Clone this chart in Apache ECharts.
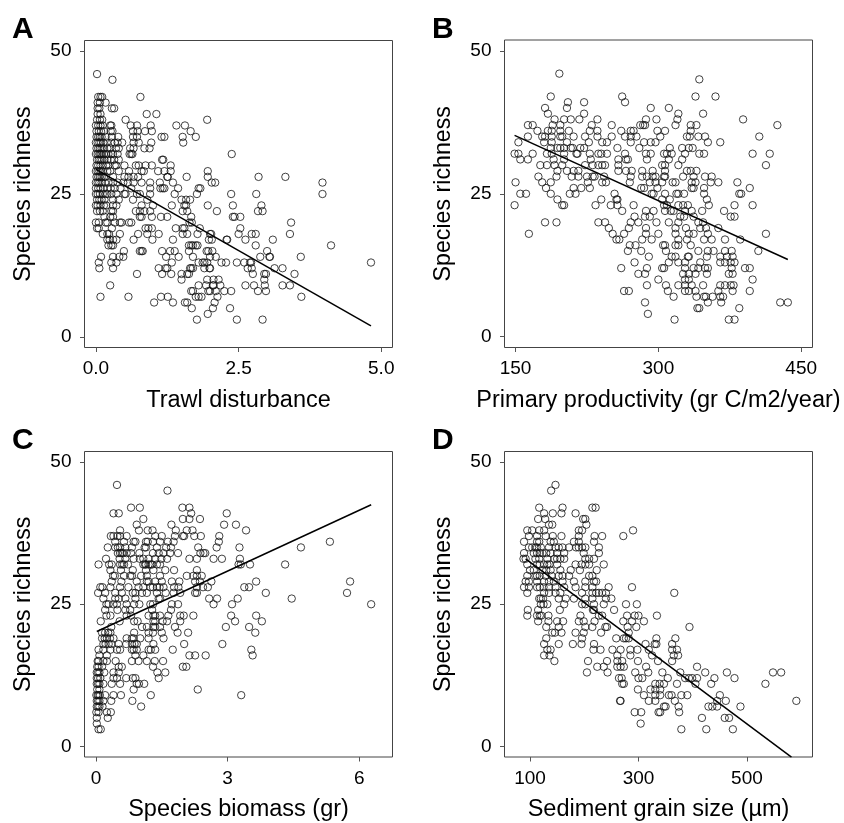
<!DOCTYPE html>
<html><head><meta charset="utf-8">
<style>html,body{margin:0;padding:0;background:#fff}#c{width:844px;height:823px}</style>
<script src="https://cdn.jsdelivr.net/npm/echarts@6/dist/echarts.min.js"></script>
</head><body><div id="c"></div>
<script>
// Species richness levels: each row in the x lists below belongs to one level.
const richnessLevels=[46,45,42,41,40,39,38,37,36,35,34,33,32,31,30,29,28,27,26,25,24,23,22,21,20,19,18,17,16,15,14,13,12,11,10,9,8,7,6,5,4,3];

const trawl=[
[.02],[.29],
[.04,.08,.11,.78],
[.03,.07,.17],
[.03,.06,.28,.32],
[.03,.08,.89,1.06],
[.02,.07,.11,.52,1.95],
[0,.04,.08,.12,.25,.27,.61,.72,.96,1.41,1.56],
[.01,.05,.09,.14,.26,.29,.65,.73,.86,.98,1.66],
[.01,.04,.07,.1,.17,.28,.39,.65,.72,1.15,1.2,1.52,1.75],
[0,.03,.06,.09,.13,.19,.27,.33,.38,.46,.66,.75,.97,1.53],
[.01,.04,.07,.1,.14,.2,.25,.35,.4,.6,.66,.85,.94],
[0,.03,.06,.08,.1,.14,.18,.22,.27,.3,.38,.59,.62,.64,2.38],
[.02,.05,.08,.11,.15,.2,.26,.32,.4,1.16,1.18],
[.01,.04,.08,.12,.18,.22,.33,.36,.5,.7,.75,.87,.98,1.31],
[0,.03,.06,.09,.12,.2,.25,.4,.58,.8,.84,1.09,1.2,1.31,1.96],
[.01,.04,.07,.1,.14,.17,.3,.5,.57,.66,.74,1.25,1.26,1.59,1.96,2.85,3.32],
[0,.03,.06,.1,.16,.22,.3,.38,.48,.56,.66,.8,.95,1.12,1.35,2.03,2.09,3.97],
[0,.04,.08,.13,.2,.26,.33,.43,.62,.95,1.13,1.17,1.2,1.44,1.8,1.83],
[0,.03,.07,.12,.17,.2,.27,.36,.5,.52,.72,.77,.95,1.38,1.77,2.37,2.81,3.97],
[.02,.06,.1,.15,.3,.4,.65,.9,1.5,1.58,1.65],
[0,.03,.08,.14,.18,.3,.36,.8,1.0,1.33,1.55,1.58,1.96,2.4,2.9],
[.02,.07,.12,.27,.3,.7,.77,.85,.95,1.52,1.6,2.12,2.84,2.92],
[.15,.25,.3,.77,.8,.98,1.14,1.25,1.67,2.4,2.43,2.53],
[0,.05,.17,.2,.33,.42,.45,.58,.62,1.64,1.68,3.42],
[.02,.05,.28,.87,.92,.98,1.4,1.52,1.55,1.82,2.53],
[.12,.2,.23,.42,.74,.9,1.1,1.52,1.6,1.78,2,2.02,2.5,2.73,2.8,3.4],
[.2,.24,.3,.36,.66,.99,1.35,1.98,2.03,2.29,2.3,2.62,3.1],
[.22,.27,.3,1.63,1.67,1.7,1.75,1.78,2.8,4.12],
[.49,.77,.8,.82,1.16,1.3,1.38,1.63,1.94,1.97,2.04,3.0],
[.09,.3,.41,.48,1.23,1.45,1.7,2.0,2.1,2.88,3.04,3.05,3.59],
[.05,.27,.36,1.33,1.8,1.87,1.9,1.95,2.2,2.28,2.47,2.6,2.7,2.72,4.82],
[.06,.3,1.1,1.22,1.25,1.65,1.67,1.7,1.9,1.99,2.0,2.66,2.73,3.13,3.27],
[.72,1.16,1.32,1.5,1.6,1.63,2.75,2.95,2.98,3.48],
[1.5,1.95,2.06,2.15,2.95],
[.25,1.8,1.93,2.05,2.06,2.18,2.62,2.77,2.96,3.27,3.4],
[1.67,1.7,1.97,2.0,2.1,2.25,2.37,2.84,2.98],
[.08,.57,1.14,1.26,1.75,1.8,1.85,2.13,3.6],
[1.02,1.35,1.56,1.6,2.08],
[1.68,2.05,2.35],
[1.96],
[1.77,2.47,2.92]
];

const productivity=[
[196],[343],
[187,262,339,360],
[205,222,265],
[181,204,292,311],
[184,222,321,347],
[191,201,208,217,236,287,298,320,389],
[163,168,189,197,230,251,281,284,286,318,334,340,425],
[173,184,188,197,206,228,236,261,271,274,299,307,334],
[163,178,181,188,197,199,211,223,236,251,265,271,277,302,330,333,342,349,406],
[153,180,188,204,227,241,246,271,285,292,297,352,365],
[187,194,197,201,208,210,218,222,257,280,312,325,332,336],
[149,153,168,183,188,201,214,215,228,237,240,246,265,287,292,306,309,314,328,343,348,399,417],
[155,163,190,201,229,258,266,268,288,311,325],
[176,183,191,199,223,231,237,241,244,258,304,307,321,413],
[194,204,211,216,258,266,272,283,294,307,330,334,340],
[174,193,209,216,225,231,233,243,271,283,288,294,297,306,307,326,337,349,356],
[150,178,187,226,241,245,270,291,297,304,315,318,335,339,355,363,383],
[182,211,219,228,282,285,299,335,337,348,396],
[155,161,187,207,213,254,293,295,307,319,321,327,348,385,387],
[194,240,256,257,304,312,351],
[149,199,201,234,250,257,274,306,309,321,326,331,353,380,399],
[262,287,295,307,313,316,328,335,346,369],
[275,286,291,323,327,337,376,380],
[181,193,237,244,271,279,298,311,321,342,347],
[248,269,287,318,329,344,350,363],
[164,252,264,287,300,318,332,337,352,413],
[256,259,283,293,321,330,348,356,370,386],
[270,276,305,307,318,321,334],
[268,282,308,342,352,358,370,377,405],
[290,314,318,331,332,351,365,372,378],
[275,311,321,328,344,365,370,376,380],
[261,288,304,306,328,337,342,349,352,377,391,396],
[279,286,326,332,339,351,374,378],
[300,328,332,399],
[288,308,321,328,335,347,365,370,376,379],
[264,269,310,328,332,339,363,378,396],
[316,340,348,350,357,365,368],
[286,352,366,428,436],
[341,343,385],
[289],
[317,374,380]
];

const biomass=[
[.48],[1.63],
[.8,1.0,1.97,2.13],
[.4,.52,2.17,2.98],
[1.08,1.98,2.13,2.37],
[.93,1.72,2.92,3.19],
[.55,.98,1.18,1.29,1.82,2.07,2.2,3.42],
[.34,.4,.49,.55,.7,1.35,1.5,1.8,1.98,2.01,2.24,2.39,2.81],
[.44,.64,.86,.9,1.14,1.18,1.3,1.46,1.64,1.77,2.8,5.33],
[.27,.44,.5,.55,.67,.82,1.11,1.14,1.39,1.6,1.71,2.33,2.75,3.27,4.67],
[.5,.55,.59,.62,.7,.8,.99,1.3,1.43,1.54,1.69,1.87,2.38,2.45,2.49],
[.23,.54,.67,.86,1.0,1.08,1.2,1.35,1.49,1.62,2.13,2.3,2.68,2.87,3.28],
[.06,.3,.36,.55,.6,.64,.73,1.08,1.12,1.14,1.2,1.25,1.28,1.39,1.46,3.25,3.3,3.51,4.31],
[.33,.57,.84,1.14,1.31,1.58,1.78,2.3],
[.39,.43,.64,.78,.82,1.03,1.16,1.46,2.07,2.22,2.3,2.41],
[.36,.58,.93,1.16,1.2,1.35,1.5,1.73,1.9,2.26,2.37,2.63,3.65,5.79],
[.1,.15,.33,.55,.74,.97,1.08,1.24,1.3,1.39,1.45,1.54,1.78,1.88,2.3,2.44,2.55,3.38,3.49],
[.05,.21,.44,.59,.84,.9,1.05,1.16,1.39,1.59,1.77,1.92,2.26,2.3,3.87,5.72],
[.17,.44,.52,.67,.9,1.43,1.46,2.58,2.76,3.23,4.46],
[.24,.29,.4,.48,.7,.87,.99,1.24,1.3,1.73,1.87,2.68,3.1,6.27],
[.21,.49,.67,.78,1.28,1.71],
[.24,.33,.7,.8,1.2,1.31,1.35,1.46,1.65,1.92,2.0,2.22,3.08,3.65],
[.11,.54,.87,.95,1.31,1.35,1.52,1.62,1.92,3.17,3.78],
[.35,1.05,1.16,1.31,1.35,1.46,1.8,2.96,3.49],
[.14,.21,.28,.33,.87,1.2,1.3,1.5,1.86,2.1,3.63],
[.14,.2,.25,.32,.4,.7,.82,.86,1.01,1.2,1.54],
[.17,.22,.29,.35,.52,.69,.82,.88,.93,1.31,2.01,2.88],
[.06,.17,.33,.48,.55,.82,.86,.93,1.2,1.25,1.35,1.75,3.54],
[.08,.25,.9,1.08,2.13,2.26,2.5,3.57],
[.04,.06,.17,.25,.45,.82,.97,1.16,1.34,1.53],
[.03,.06,.14,.52,.59,1.3,1.98,2.06],
[.02,.05,.08,.19,.4,.52,1.4,1.58],
[.02,.05,.1,.4,.48,.69,.84,.9,1.43],
[.02,.05,.08,.17,.36,.55,.93,.98,1.1],
[.03,.08,.86,2.32],
[.01,.04,.06,.09,.21,.4,.57,1.25,3.31],
[.02,.05,.08,.17,.35,.83],
[.02,.05,.08,.15,1.03],
[.01,.06,.25,.34],
[.02,.27],
[.02],
[.06,.11]
];

const grainSize=[
[147],[139],
[117,160,215,221],
[126,142,158,184],
[115,128,198,202],
[135,141,204],
[95,104,117,126,190,196,290],
[98,113,129,142,158,190,219,233,272],
[89,113,117,138,144,181,190,218],
[98,104,110,113,120,135,147,153,160,172,185,190,196,202,227],
[89,107,113,118,123,130,138,150,163,199,227],
[88,92,110,117,132,145,150,156,163,202,209,218],
[95,113,118,126,132,136,150,184,195,202,209,236],
[100,107,123,130,138,156,175,192,223],
[95,110,113,118,129,140,153,160,172,209,215],
[92,98,113,126,135,144,160,181,202,218,222],
[89,98,113,118,125,135,147,163,184,202,215,245,288],
[95,126,135,147,156,196,215,222,227,233,240,366],
[117,120,124,153,166,181,202,215,240,250],
[120,125,132,163,196,202,218,236,277,297],
[96,115,155,216,218,255],
[95,113,118,121,134,193,227,233,279,293,300,334],
[115,134,150,161,190,199,219,272,288,310],
[130,153,202,215,239,242,280,296,394],
[141,146,158,184,199,231,282],
[130,196,259,273,277,282,333,368],
[126,153,179,195,218,313,330,333,362],
[132,138,217,230,252,267,285,298,319,362,371],
[126,136,261,285,325,365,373],
[145,207,242,261,270,299,336,362],
[224,236,261,267,273,314,408],
[205,243,294,318,344,377,423,463,548,563],
[264,269,300,307,354,386,393,399,408,440,477],
[270,273,331,339,347,371,405,434,534],
[299,322,331,340],
[310,331,340,356,361,379,390,450],
[266,267,319,331,367,445,461,591],
[347,350,374,429,436,445,488],
[293,305,337,340,375],
[417,459,467],
[304],
[379,425,474]
];

// Fitted lines: x end points and richness end points.
const trawlFitX=[0,4.82], trawlFitY=[29.3,1.9];
const productivityFitX=[149,436], productivityFitY=[35.2,13.5];
const biomassFitX=[.02,6.27], biomassFitY=[20.2,42.5];
const grainFitX=[92,582], grainFitY=[33,-1.9];

const yTicks=[0,25,50];
const trawlTicks=[0,2.5,5];
const productivityTicks=[150,300,450];
const biomassTicks=[0,3,6];
const grainTicks=[100,300,500];

const FONT='"Liberation Sans",Arial,sans-serif';
const pts=l=>l.flatMap((xs,i)=>xs.map(x=>[x,richnessLevels[i]]));
const fit=(X,Y)=>X.map((x,i)=>[x,Y[i]]);
const panels=[
 {letter:'A',lx:12,ly:15,left:84.5,top:40.5,w:308,h:307,xmin:-.2,xmax:5.197,ticks:trawlTicks,fmt:v=>v.toFixed(1),name:'Trawl disturbance',rows:trawl,fx:trawlFitX,fy:trawlFitY},
 {letter:'B',lx:432,ly:15,left:504.5,top:40,w:308,h:307.5,xmin:138.4,xmax:461.9,ticks:productivityTicks,fmt:String,name:'Primary productivity (gr C/m2/year)',rows:productivity,fx:productivityFitX,fy:productivityFitY},
 {letter:'C',lx:12,ly:426,left:84.5,top:451.5,w:308,h:307.5,xmin:-.26,xmax:6.756,ticks:biomassTicks,fmt:String,name:'Species biomass (gr)',rows:biomass,fx:biomassFitX,fy:biomassFitY},
 {letter:'D',lx:432,ly:426,left:504.5,top:451.5,w:308,h:307.5,xmin:53,xmax:620.8,ticks:grainTicks,fmt:String,name:'Sediment grain size (\u00b5m)',rows:grainSize,fx:grainFitX,fy:grainFitY}
];
const tickStyle={show:true,length:4.5,lineStyle:{color:'#555',width:1}};
const chart=echarts.init(document.getElementById('c'),null,{renderer:'canvas'});
chart.setOption({
 animation:false,backgroundColor:'#fff',
 title:panels.map(p=>({text:p.letter,left:p.lx,top:p.ly,padding:0,textStyle:{fontFamily:FONT,fontWeight:'bold',fontSize:30,color:'#000'}})),
 grid:panels.map(p=>({left:p.left,top:p.top,width:p.w,height:p.h,show:true,borderColor:'#444',borderWidth:1,backgroundColor:'transparent',containLabel:false})),
 xAxis:panels.map((p,i)=>({type:'value',gridIndex:i,min:p.xmin,max:p.xmax,splitLine:{show:false},axisLine:{show:false,onZero:false},
   axisTick:{...tickStyle,customValues:p.ticks},
   axisLabel:{customValues:p.ticks,formatter:p.fmt,fontFamily:FONT,fontSize:19,color:'#000',margin:12,showMinLabel:true,showMaxLabel:true},
   name:p.name,nameLocation:'middle',nameGap:41,nameTextStyle:{fontFamily:FONT,fontSize:23.5,color:'#000'}})),
 yAxis:panels.map((p,i)=>({type:'value',gridIndex:i,min:-1.88,max:51.88,splitLine:{show:false},axisLine:{show:false,onZero:false},
   axisTick:{...tickStyle,customValues:yTicks},
   axisLabel:{customValues:yTicks,formatter:String,fontFamily:FONT,fontSize:19,color:'#000',margin:13},
   name:'Species richness',nameLocation:'middle',nameGap:49,nameTextStyle:{fontFamily:FONT,fontSize:23.2,color:'#000'}})),
 series:panels.flatMap((p,i)=>[
  {type:'scatter',xAxisIndex:i,yAxisIndex:i,data:pts(p.rows),symbol:'circle',symbolSize:7.4,silent:true,progressive:0,
   itemStyle:{color:'rgba(0,0,0,0)',borderColor:'#111',borderWidth:.8,opacity:1}},
  {type:'line',xAxisIndex:i,yAxisIndex:i,data:fit(p.fx,p.fy),showSymbol:false,silent:true,lineStyle:{color:'#000',width:1.5}}
 ])
});
</script></body></html>
